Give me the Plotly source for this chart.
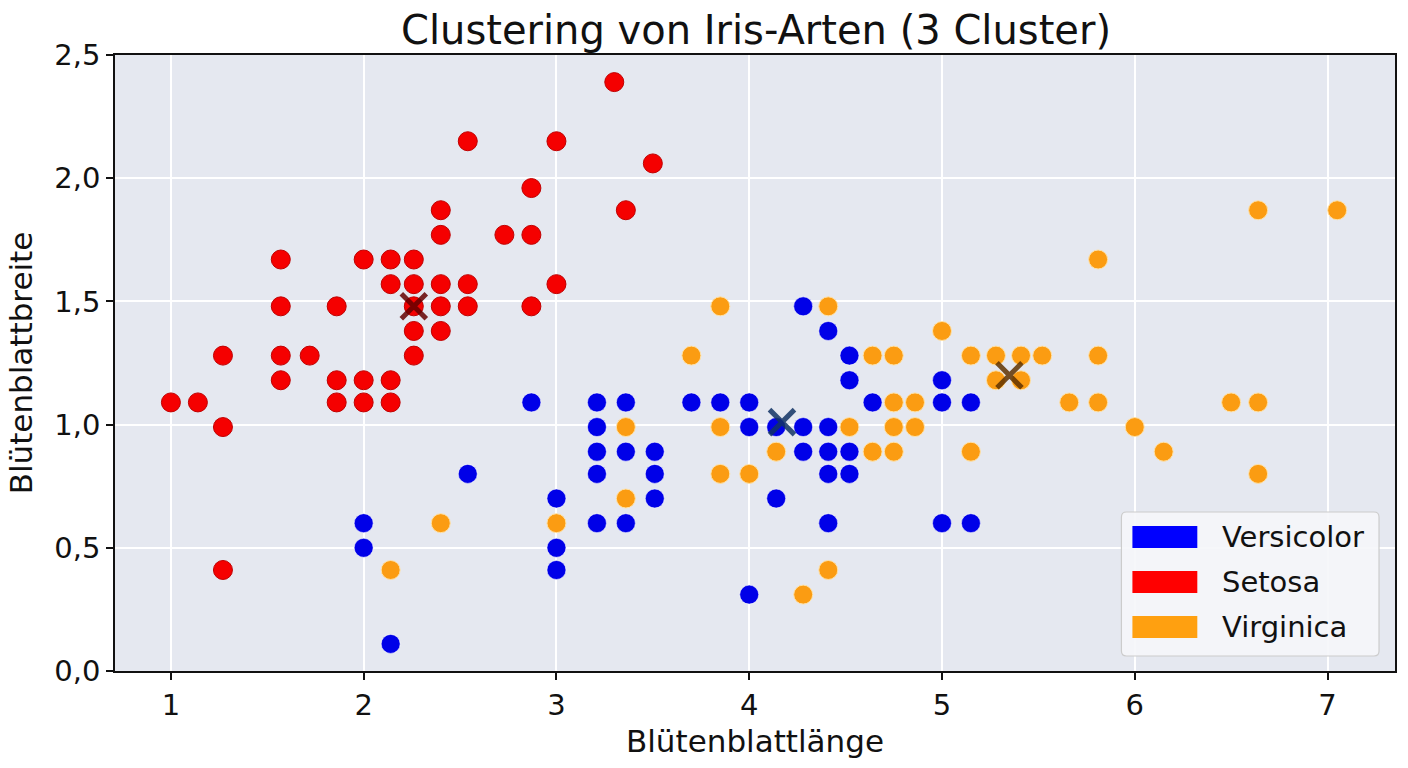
import plotly.graph_objects as go

# ---------------- data ----------------
setosa_x = [3.30, 2.54, 3.00, 3.50, 2.87, 2.40, 3.36, 2.40, 2.73, 2.87,
            1.57, 2.00, 2.14, 2.26, 2.14, 2.26, 2.40, 2.54, 3.00,
            1.57, 1.86, 2.26, 2.40, 2.54, 2.87, 2.26, 2.40,
            1.27, 1.57, 1.72, 2.26, 1.57, 1.86, 2.00, 2.14,
            1.00, 1.14, 1.86, 2.00, 2.14, 1.27, 1.27]
setosa_y = [2.39, 2.15, 2.15, 2.06, 1.96, 1.87, 1.87, 1.77, 1.77, 1.77,
            1.67, 1.67, 1.67, 1.67, 1.57, 1.57, 1.57, 1.57, 1.57,
            1.48, 1.48, 1.48, 1.48, 1.48, 1.48, 1.38, 1.38,
            1.28, 1.28, 1.28, 1.28, 1.18, 1.18, 1.18, 1.18,
            1.09, 1.09, 1.09, 1.09, 1.09, 0.99, 0.41]

versicolor_x = [2.00, 2.00, 2.14, 2.54, 2.87, 3.00, 3.00, 3.00, 3.21, 3.21,
                3.21, 3.21, 3.21, 3.36, 3.36, 3.36, 3.51, 3.51, 3.51, 3.70,
                3.85, 4.00, 4.00, 4.00, 4.14, 4.14, 4.28, 4.28, 4.28, 4.41,
                4.41, 4.41, 4.41, 4.41, 4.52, 4.52, 4.52, 4.52, 4.64, 5.00,
                5.00, 5.00, 5.15, 5.15]
versicolor_y = [0.60, 0.50, 0.11, 0.80, 1.09, 0.70, 0.50, 0.41, 1.09, 0.99,
                0.89, 0.80, 0.60, 1.09, 0.89, 0.60, 0.89, 0.80, 0.70, 1.09,
                1.09, 1.09, 0.99, 0.31, 0.99, 0.70, 1.48, 0.99, 0.89, 1.38,
                0.99, 0.89, 0.80, 0.60, 1.28, 1.18, 0.89, 0.80, 1.09, 1.18,
                1.09, 0.60, 1.09, 0.60]

virginica_x = [2.14, 2.40, 3.00, 3.36, 3.36, 3.70, 3.85, 3.85, 3.85, 4.00,
               4.14, 4.28, 4.41, 4.41, 4.52, 4.64, 4.64, 4.75, 4.75, 4.75,
               4.75, 4.86, 4.86, 5.00, 5.15, 5.15, 5.28, 5.28, 5.41, 5.41,
               5.52, 5.66, 5.81, 5.81, 5.81, 6.00, 6.15, 6.50, 6.64, 6.64,
               6.64, 7.05]
virginica_y = [0.41, 0.60, 0.60, 0.99, 0.70, 1.28, 1.48, 0.99, 0.80, 0.80,
               0.89, 0.31, 1.48, 0.41, 0.99, 1.28, 0.89, 1.28, 1.09, 0.99,
               0.89, 1.09, 0.99, 1.38, 1.28, 0.89, 1.28, 1.18, 1.28, 1.18,
               1.28, 1.09, 1.67, 1.28, 1.09, 0.99, 0.89, 1.09, 1.87, 1.09,
               0.80, 1.87]

centroid_names = ["Setosa", "Versicolor", "Virginica"]
centroid_x = [2.26, 4.17, 5.35]
centroid_y = [1.48, 1.01, 1.20]
centroid_colors = ["rgba(100,0,0,0.85)", "rgba(18,50,100,0.85)", "rgba(95,50,0,0.85)"]

legend_names = ["Versicolor", "Setosa", "Virginica"]
legend_colors = ["#0000ff", "#ff0000", "#ffa010"]

x_ticks = [1, 2, 3, 4, 5, 6, 7]
y_ticks = [0.0, 0.5, 1.0, 1.5, 2.0, 2.5]

# ---------------- figure ----------------
W, H = 1408, 768
L, R, T, B = 115, 11, 55, 97
FONT = "DejaVu Sans"

fig = go.Figure()

fig.add_trace(go.Scatter(
    x=versicolor_x, y=versicolor_y, mode="markers", name="Versicolor",
    marker=dict(size=19, color="#0000e8", line=dict(color="rgba(255,255,255,0.55)", width=1))))
fig.add_trace(go.Scatter(
    x=setosa_x, y=setosa_y, mode="markers", name="Setosa",
    marker=dict(size=19, color="#f50000", line=dict(color="#c00000", width=1))))
fig.add_trace(go.Scatter(
    x=virginica_x, y=virginica_y, mode="markers", name="Virginica",
    marker=dict(size=19, color="#fb9c12", line=dict(color="#ffe2a8", width=1))))

for cx, cy, cc, cn in zip(centroid_x, centroid_y, centroid_colors, centroid_names):
    fig.add_trace(go.Scatter(
        x=[cx], y=[cy], mode="markers", name=cn + " Zentrum",
        marker=dict(symbol="x-thin", size=25, color=cc, line=dict(color=cc, width=5))))

# ---------------- manual legend (pixel -> paper) ----------------
pw, ph = W - L - R, H - T - B
def px(xp):
    return (xp - L) / pw
def py(yp):
    return (H - B - yp) / ph

bx0, bx1, by0, by1, rad = 1123, 1381, 512, 656, 5
rx, ry = rad / pw, rad / ph
X0, X1, Y0, Y1 = px(bx0), px(bx1), py(by1), py(by0)
path = (f"M {X0+rx},{Y0} L {X1-rx},{Y0} Q {X1},{Y0} {X1},{Y0+ry} "
        f"L {X1},{Y1-ry} Q {X1},{Y1} {X1-rx},{Y1} L {X0+rx},{Y1} "
        f"Q {X0},{Y1} {X0},{Y1-ry} L {X0},{Y0+ry} Q {X0},{Y0} {X0+rx},{Y0} Z")
shapes = [dict(type="path", xref="paper", yref="paper", path=path,
               fillcolor="rgba(245,246,249,0.9)", line=dict(color="#cccccc", width=1.2))]
annotations = []
row_tops = [526, 571, 616]
for name, col, top in zip(legend_names, legend_colors, row_tops):
    shapes.append(dict(type="rect", xref="paper", yref="paper",
                       x0=px(1134), x1=px(1199), y0=py(top + 22), y1=py(top),
                       fillcolor=col, line=dict(width=0)))
    annotations.append(dict(xref="paper", yref="paper", x=px(1222), y=py(top + 11),
                            xanchor="left", yanchor="middle", showarrow=False,
                            text=name, font=dict(family=FONT, size=29, color="#111111")))

fig.update_layout(
    width=W, height=H,
    margin=dict(l=L, r=R, t=T, b=B, pad=0),
    paper_bgcolor="white",
    plot_bgcolor="#e5e8f0",
    separators=",.",
    showlegend=False,
    font=dict(family=FONT, size=29, color="#111111"),
    title=dict(text="Clustering von Iris-Arten (3 Cluster)", x=(L + (W - R)) / 2 / W, xref="container",
               xanchor="center", y=1 - 30 / H, yref="container", yanchor="middle",
               font=dict(family=FONT, size=40, color="#111111")),
    shapes=shapes,
    annotations=annotations,
)

fig.update_xaxes(
    range=[0.71, 7.35], tickvals=x_ticks, ticktext=[str(v) for v in x_ticks],
    showgrid=True, gridcolor="white", gridwidth=2, zeroline=False,
    showline=True, linecolor="#111111", linewidth=1.5, mirror=True,
    ticks="outside", ticklen=7, tickwidth=1.5, tickcolor="#111111",
    tickfont=dict(family=FONT, size=29, color="#111111"),
    title=dict(text="Blütenblattlänge", font=dict(family=FONT, size=31, color="#111111"), standoff=10),
)
fig.update_yaxes(
    range=[0, 2.5], tickvals=y_ticks, tickformat=".1f",
    showgrid=True, gridcolor="white", gridwidth=2, zeroline=False,
    showline=True, linecolor="#111111", linewidth=1.5, mirror=True,
    ticks="outside", ticklen=7, tickwidth=1.5, tickcolor="#111111",
    tickfont=dict(family=FONT, size=29, color="#111111"),
    title=dict(text="Blütenblattbreite", font=dict(family=FONT, size=31, color="#111111"), standoff=12),
)

fig.write_html("out.html")
